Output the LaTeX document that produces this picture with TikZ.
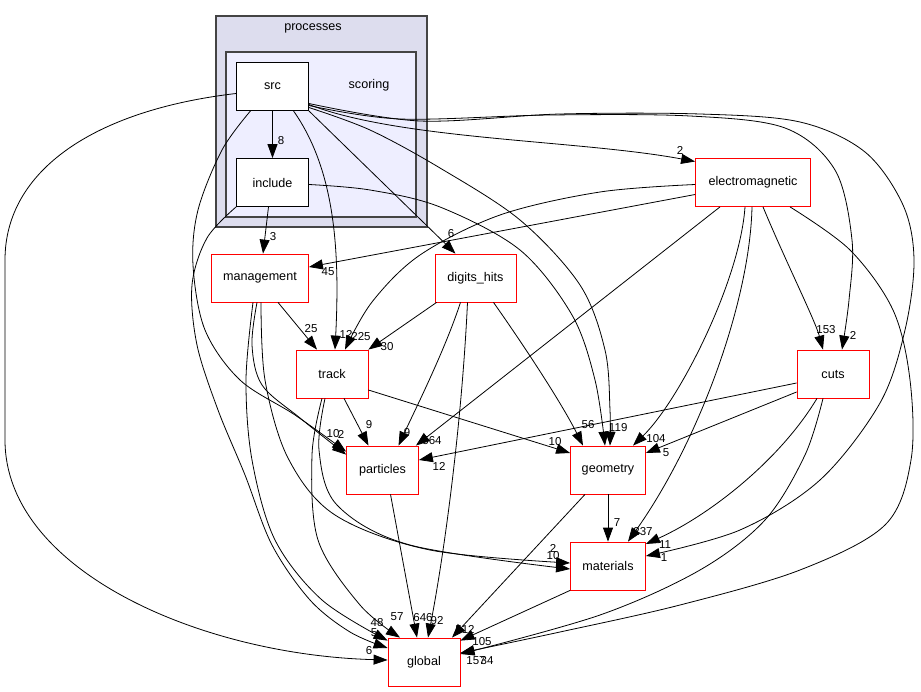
\documentclass[tikz,border=0pt]{standalone}
\usepackage{fontspec}
\setmainfont{Liberation Sans}
\usetikzlibrary{arrows.meta,calc}
\definecolor{clouter}{HTML}{DDDDEE}
\definecolor{clinner}{HTML}{EEEEFF}
\definecolor{clborder}{HTML}{444444}
\newcommand\nfont{\fontsize{12.6}{15}\selectfont}
\newcommand\lfont{\fontsize{11.5}{13}\selectfont}
\begin{document}
\begin{tikzpicture}[x=1pt,y=-1pt,
  dirbox/.style={draw=red, fill=white, line width=0.8pt, minimum height=48pt, inner sep=0pt, font=\nfont},
  srcbox/.style={draw=black, fill=white, line width=0.8pt, minimum height=48pt, minimum width=72pt, inner sep=0pt, font=\nfont},
  conn/.style={draw=black, line width=0.8pt, -{Triangle[length=14pt,width=10pt]}},
  lbl/.style={font=\lfont, inner sep=0pt},
  cllbl/.style={font=\nfont, inner sep=0pt}]
\useasboundingbox (0,0) rectangle (921,692);
\fill[white] (0,0) rectangle (921,692);
% clusters
\draw[fill=clouter, draw=clborder, line width=1.3pt] (216,16) rectangle (427,227);
\node[cllbl] (lprocesses) at (313,28) {processes};
\draw[fill=clinner, draw=clborder, line width=1.3pt] (226,52) rectangle (416,217);
\node[cllbl] (lscoring) at (369,85) {scoring};
% nodes
\node[srcbox] (src) at (272.5,86.5) {src};
\node[srcbox] (include) at (272.5,182.5) {include};
\node[dirbox, minimum width=115pt] (em) at (753,182.5) {electromagnetic};
\node[dirbox, minimum width=97pt] (management) at (260,278) {management};
\node[dirbox, minimum width=81pt] (digits) at (475.5,278) {digits\_hits};
\node[dirbox, minimum width=72pt] (track) at (332,374) {track};
\node[dirbox, minimum width=72pt] (cuts) at (833,374) {cuts};
\node[dirbox, minimum width=72pt] (particles) at (382.5,470) {particles};
\node[dirbox, minimum width=75pt] (geometry) at (608,470) {geometry};
\node[dirbox, minimum width=75pt] (materials) at (608,566) {materials};
\node[dirbox, minimum width=72pt] (global) at (424,662) {global};
% edges from src
\draw[conn] (src.south) -- (include.north);
\draw[conn] ([yshift=-18]src.east) .. controls (400,140) and (580,140) .. ([yshift=21]em.west);
\draw[conn] plot[smooth,tension=0.55] coordinates {([yshift=-19]src.east) (400,119) (550,115) (690,116) (785,128) (835,170) (852,240) (849,300) ([xshift=9]cuts.north)};
\draw[conn] plot[smooth,tension=0.55] coordinates {([yshift=-17]src.east) (420,121) (560,114) (700,114) (800,122) (865,152) (903,205) (914,260) (905,330) (880,403) (820,480) (740,530) ([yshift=10]materials.east)};
\draw[conn] (src.south east) -- ([xshift=-20]digits.north);
\draw[conn] plot[smooth,tension=0.55] coordinates {([yshift=-21]src.east) (370,130) (440,168) (520,220) (580,285) (605,350) (610,410) ([xshift=2]geometry.north)};
\draw[conn] ([xshift=21]src.south) .. controls (335,170) and (340,250) .. ([xshift=3]track.north);
\draw[conn] plot[smooth,tension=0.55] coordinates {([xshift=-22]src.south) (222,150) (198,210) (193,265) (205,330) (240,380) (295,415) ([yshift=-6]particles.north west)};
\draw[conn] ([yshift=-7]src.west) .. controls (95,110) and (5,170) .. (5,260) -- (5,440) .. controls (5,570) and (200,655) .. ([yshift=2]global.west);
% edges from include
\draw[conn] ([xshift=-4]include.south) -- ([xshift=3]management.north);
\draw[conn] plot[smooth,tension=0.55] coordinates {([yshift=-2]include.east) (370,190) (440,207) (520,250) (572,315) (595,380) ([xshift=-3]geometry.north)};
\draw[conn] plot[smooth,tension=0.55] coordinates {(include.south west) (207,238) (192,285) (197,345) (218,410) (245,475) (272,545) (310,600) (350,632) ([yshift=14]global.west)};
% edges from management
\draw[conn] ([xshift=18]management.south) -- ([xshift=-15]track.north);
\draw[conn] plot[smooth,tension=0.55] coordinates {([xshift=-3]management.south) (252,345) (262,385) (300,418) ([yshift=-9]particles.north west)};
\draw[conn] plot[smooth,tension=0.55] coordinates {([xshift=-7]management.south) (246,380) (252,460) (275,540) (322,600) ([yshift=-3]global.north west)};
\draw[conn] plot[smooth,tension=0.55] coordinates {([xshift=1]management.south) (265,380) (288,458) (335,515) (430,550) ([yshift=3]materials.west)};
% edges from track
\draw[conn] plot[smooth,tension=0.55] coordinates {([xshift=-7]track.south) (319,450) (337,505) (410,545) ([yshift=-3]materials.west)};
\draw[conn] plot[smooth,tension=0.55] coordinates {([xshift=-10]track.south) (312,455) (318,540) (360,605) ([xshift=-24]global.north)};
\draw[conn] ([xshift=12]track.south) -- ([xshift=-14]particles.north);
\draw[conn] ([yshift=-16]track.east) -- ([yshift=17]geometry.west);
% edges from digits_hits
\draw[conn] ([xshift=2]digits.south west) -- (track.north east);
\draw[conn] ([xshift=-15]digits.south) .. controls (445,350) and (415,410) .. ([xshift=16]particles.north);
\draw[conn] ([xshift=-8]digits.south) .. controls (462,420) and (445,550) .. ([xshift=4]global.north);
\draw[conn] ([xshift=18]digits.south) .. controls (520,340) and (560,400) .. ([xshift=-25]geometry.north);
% particles, geometry, materials
\draw[conn] ([xshift=8]particles.south) -- ([xshift=-7]global.north);
\draw[conn] ([xshift=-23]geometry.south) -- ([xshift=28]global.north);
\draw[conn] (geometry.south) -- (materials.north);
\draw[conn] (materials.south west) -- ([yshift=-3]global.north east);
% edges from electromagnetic
\draw[conn] ([yshift=-12]em.west) -- ([yshift=11]management.east);
\draw[conn] plot[smooth,tension=0.55] coordinates {([yshift=-2]em.west) (600,192) (500,215) (420,255) (372,302) ([xshift=13]track.north)};
\draw[conn] ([xshift=-33]em.south) -- ([xshift=-3]particles.north east);
\draw[conn] ([xshift=-8]em.south) .. controls (740,280) and (680,400) .. ([xshift=25]geometry.north);
\draw[conn] ([xshift=-1]em.south) .. controls (750,300) and (700,440) .. ([xshift=20]materials.north);
\draw[conn] ([xshift=10]em.south) .. controls (785,260) and (815,320) .. ([xshift=-10]cuts.north);
\draw[conn] plot[smooth,tension=0.55] coordinates {([xshift=37]em.south) (850,250) (893,310) (910,380) (911,460) (885,525) (800,570) (680,605) (560,632) ([yshift=9]global.east)};
% edges from cuts
\draw[conn] ([yshift=-9]cuts.west) -- ([yshift=10]particles.east);
\draw[conn] ([yshift=-18]cuts.west) -- ([yshift=17]geometry.east);
\draw[conn] ([xshift=-16]cuts.south) .. controls (780,460) and (710,515) .. ([yshift=22]materials.east);
\draw[conn] plot[smooth,tension=0.55] coordinates {([xshift=-10]cuts.south) (805,455) (765,520) (700,570) (600,615) ([yshift=8]global.east)};
% labels
\node[lbl] (l1) at (281,141) {8};
\node[lbl] (l2) at (680,150) {2};
\node[lbl] (l3) at (273,237) {3};
\node[lbl] (l4) at (328,272) {45};
\node[lbl] (l5) at (451,234) {6};
\node[lbl] (l6) at (311,329) {25};
\node[lbl] (l7) at (346,334) {12};
\node[lbl] (l8) at (361,337) {225};
\node[lbl] (l9) at (387,347) {30};
\node[lbl] (l10) at (826,330) {153};
\node[lbl] (l11) at (853,335) {2};
\node[lbl] (l12) at (333,434) {10};
\node[lbl] (l13) at (341,434) {2};
\node[lbl] (l14) at (369,425) {9};
\node[lbl] (l15) at (407,433) {9};
\node[lbl] (l16) at (432,441) {564};
\node[lbl] (l17) at (439,466) {12};
\node[lbl] (l18) at (555,442) {10};
\node[lbl] (l19) at (588,425) {56};
\node[lbl] (l20) at (612,428) {1};
\node[lbl] (l21) at (621,428) {19};
\node[lbl] (l22) at (656,439) {104};
\node[lbl] (l23) at (666,453) {5};
\node[lbl] (l24) at (617,523) {7};
\node[lbl] (l25) at (643,532) {237};
\node[lbl] (l26) at (665,545) {11};
\node[lbl] (l27) at (664,558) {1};
\node[lbl] (l28) at (553,548) {2};
\node[lbl] (l29) at (553,556) {10};
\node[lbl] (l30) at (377,623) {48};
\node[lbl] (l31) at (374,633) {5};
\node[lbl] (l32) at (369,651) {6};
\node[lbl] (l33) at (397,617) {57};
\node[lbl] (l34) at (423,618) {646};
\node[lbl] (l35) at (437,621) {92};
\node[lbl] (l36) at (465,630) {512};
\node[lbl] (l37) at (482,642) {105};
\node[lbl] (l38) at (476,661) {157};
\node[lbl] (l39) at (487,661) {34};
\end{tikzpicture}
\end{document}
